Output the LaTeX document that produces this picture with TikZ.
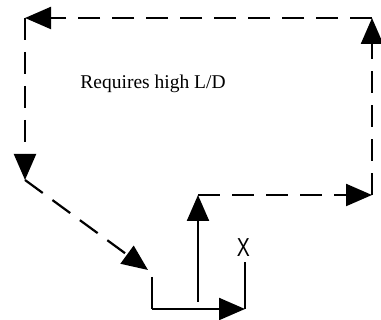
\documentclass[tikz,border=0pt]{standalone}
\usepackage{fontspec}
\setmainfont{Liberation Serif}
\setsansfont{Liberation Sans}
\usetikzlibrary{arrows.meta}
\begin{document}
\begin{tikzpicture}[x=1pt,y=-1pt,
  flow/.style={line width=2.2pt, -{Triangle[length=26pt,width=22pt]}},
  dashflow/.style={flow, dash pattern=on 22pt off 12pt},
  plain/.style={line width=2.2pt},
  note/.style={font=\fontsize{19.5}{22}\selectfont, inner sep=0pt},
  mark label/.style={font=\sffamily\fontsize{26}{28}\selectfont, inner sep=0pt}]
\useasboundingbox (0,0) rectangle (381,320);

% corners of the dashed loop
\coordinate (topL) at (25,18);
\coordinate (topR) at (372,18);
\coordinate (lowR) at (372,195);
\coordinate (turn) at (198,195);
\coordinate (leftEnd) at (25,180);
\coordinate (diagEnd) at (148,270);

% solid bracket at the bottom
\coordinate (brTop) at (152,277);
\coordinate (brBot) at (152,309);
\coordinate (brEnd) at (245,309);
\coordinate (postTop) at (245,262);
\coordinate (riseStart) at (198,302);

\node[note] (lbl) at (153,84) {Requires high L/D};
\node[mark label] (xlab) at (243.5,248) {\scalebox{0.75}[1]{X}};

% dashed loop
\draw[dashflow] (turn) -- (lowR);
\draw[dashflow] (lowR) -- (topR);
\draw[dashflow] (topR) -- (topL);
\draw[dashflow] (topL) -- (leftEnd);
\draw[dashflow] (leftEnd) -- (diagEnd);

% solid bracket and rising arrow
\draw[plain] (brTop) -- (brBot);
\draw[flow] (brBot) -- (brEnd);
\draw[plain] (brEnd) -- (postTop);
\draw[flow] (riseStart) -- (turn);
\end{tikzpicture}
\end{document}
